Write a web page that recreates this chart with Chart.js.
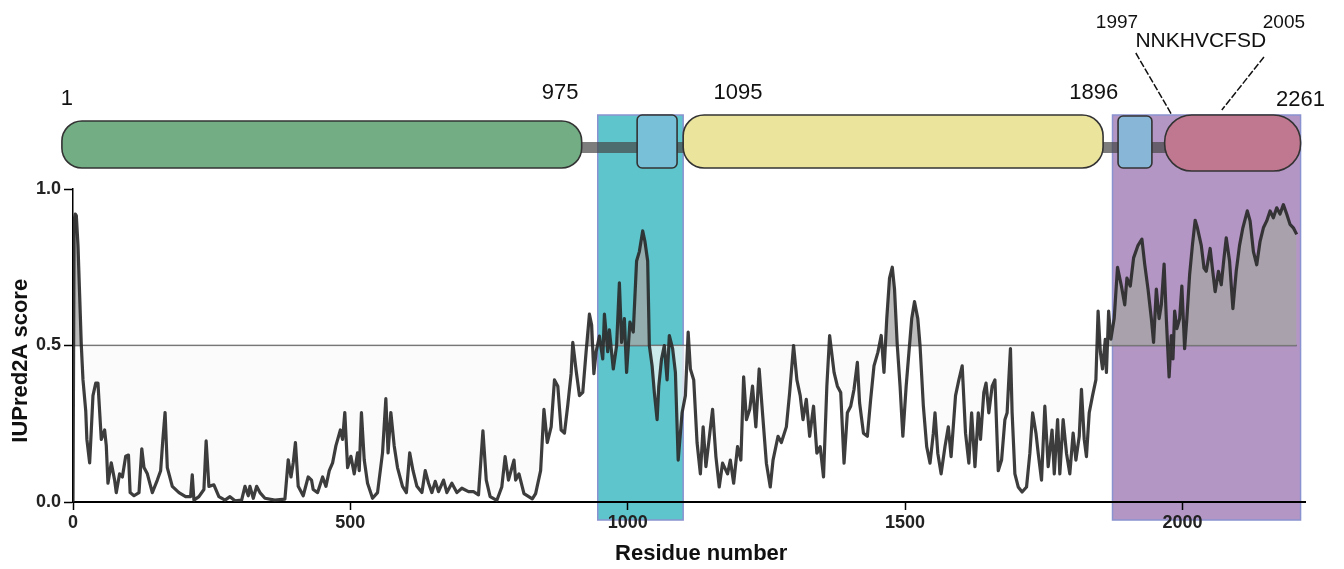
<!DOCTYPE html>
<html><head><meta charset="utf-8">
<script src="https://cdn.jsdelivr.net/npm/chart.js@4.4.0/dist/chart.umd.min.js"></script>
<style>html,body{margin:0;padding:0;background:#fff;}canvas{display:block;}</style>
</head><body>
<canvas id="c" width="1344" height="569"></canvas>
<script>
// ---------- data ----------
const residues = [0,2,4,6,9,12,15,18,23,25,30,33,36,41,45,48,51,57,60,63,69,75,78,84,89,95,100,103,110,119,124,128,134,143,152,158,162,166,170,179,191,203,212,215,218,227,236,240,245,254,263,274,283,292,304,310,316,319,325,331,337,346,364,382,388,393,397,401,406,415,424,430,433,441,450,456,462,468,474,482,486,490,495,501,507,513,516,520,525,531,540,549,558,564,568,573,579,585,594,601,607,613,620,629,635,641,647,653,659,668,674,683,692,701,713,722,731,739,745,752,
764,773,779,785,795,798,804,813,828,834,843,849,855,862,868,874,880,886,892,898,901,907,913,919,925,931,935,939,943,949,955,958,964,967,974,980,985,989,994,998,1004,1010,1016,1021,1027,1031,1036,1039,1044,1048,1053,1056,1061,1066,1071,1075,1081,1086,1091,1098,1104,1109,1113,1119,1125,1131,1136,1141,1148,1153,1159,1165,1171,1180,1185,1191,1198,1204,1209,1214,1220,1225,1231,1237,1243,1250,1257,1262,1271,1277,1286,1292,1299,1305,1311,1316,1322,1328,1335,1341,1347,1353,1359,1364,1372,1378,1384,1390,1396,1402,1408,1414,1418,1425,1432,1438,1444,1451,1457,1462,1467,1472,1477,1481,1486,1491,1496,1502,1508,1512,1517,1523,
1527,1533,1539,1545,1551,1554,1559,1565,1572,1578,1583,1591,1597,1603,1609,1615,1620,1626,1632,1636,1642,1646,1651,1657,1662,1668,1674,1680,1684,1687,1690,1693,1698,1704,1711,1719,1725,1730,1736,1740,1746,1752,1758,1765,1769,1775,1779,1785,1791,1797,1803,1808,1814,1818,1823,1827,1832,1838,1844,1848,1852,1856,1861,1863,1867,1871,1877,1883,1890,1896,1900,1906,1912,1920,1927,1932,1938,1944,1948,1953,1958,1962,1967,1971,1976,1980,1983,1986,1990,1995,1999,2004,2008,2013,2018,2023,2027,2034,2039,2043,2050,2054,2059,2065,2070,2075,2079,2085,2091,2097,2103,2109,2117,2122,2128,2134,2140,2146,2152,2158,2164,2170,2176,2182,2188,2194,2200,2206];
const scores = [0,0.90,0.92,0.915,0.82,0.66,0.50,0.39,0.29,0.20,0.125,0.23,0.34,0.38,0.38,0.29,0.20,0.23,0.18,0.06,0.125,0.07,0.03,0.09,0.08,0.146,0.15,0.03,0.02,0.03,0.17,0.11,0.09,0.03,0.07,0.10,0.20,0.286,0.11,0.05,0.03,0.017,0.017,0.087,0.006,0.017,0.04,0.195,0.05,0.055,0.017,0.006,0.017,0.004,0.006,0.05,0.02,0.05,0.012,0.05,0.03,0.012,0.006,0.009,0.135,0.08,0.125,0.19,0.05,0.02,0.08,0.07,0.04,0.03,0.08,0.05,0.10,0.125,0.18,0.23,0.20,0.286,0.11,0.146,0.09,0.157,0.10,0.286,0.135,0.06,0.012,0.03,0.157,0.33,0.157,0.286,0.18,0.11,0.05,0.03,0.157,0.10,0.05,0.03,0.10,0.06,0.03,0.066,0.033,0.07,0.03,0.06,0.03,0.044,0.033,0.033,0.023,0.227,0.07,0.017,
0.005,0.048,0.145,0.07,0.134,0.07,0.09,0.027,0.01,0.027,0.10,0.296,0.19,0.24,0.39,0.37,0.23,0.22,0.31,0.41,0.51,0.42,0.34,0.35,0.48,0.60,0.565,0.41,0.48,0.53,0.457,0.60,0.48,0.55,0.425,0.50,0.70,0.51,0.586,0.414,0.575,0.543,0.77,0.80,0.866,0.833,0.77,0.50,0.435,0.35,0.263,0.37,0.457,0.50,0.39,0.532,0.49,0.414,0.134,0.285,0.34,0.543,0.425,0.39,0.19,0.09,0.24,0.113,0.22,0.296,0.145,0.048,0.124,0.09,0.134,0.06,0.177,0.134,0.40,0.263,0.296,0.37,0.24,0.425,0.285,0.124,0.048,0.134,0.21,0.19,0.24,0.35,0.50,0.39,0.34,0.263,0.328,0.21,0.306,0.156,0.177,0.08,0.37,0.532,0.414,0.37,0.35,0.124,0.285,0.306,0.36,0.446,0.317,0.22,0.21,0.328,0.435,0.478,0.532,0.414,0.586,0.715,0.75,0.68,0.50,0.37,0.21,0.37,0.50,0.586,0.64,0.586,
0.50,0.306,0.177,0.124,0.22,0.285,0.156,0.09,0.177,0.24,0.145,0.34,0.39,0.435,0.22,0.124,0.285,0.113,0.285,0.20,0.35,0.38,0.285,0.37,0.39,0.10,0.134,0.263,0.285,0.39,0.49,0.285,0.09,0.048,0.032,0.048,0.156,0.285,0.22,0.156,0.07,0.306,0.113,0.23,0.09,0.263,0.09,0.263,0.156,0.09,0.22,0.134,0.21,0.36,0.20,0.145,0.285,0.34,0.39,0.61,0.48,0.425,0.52,0.414,0.61,0.52,0.586,0.75,0.69,0.63,0.715,0.69,0.78,0.82,0.84,0.76,0.68,0.586,0.51,0.68,0.586,0.63,0.76,0.586,0.40,0.532,0.457,0.61,0.554,0.586,0.69,0.49,0.586,0.726,0.82,0.90,0.876,0.82,0.747,0.737,0.81,0.747,0.672,0.737,0.694,0.78,0.844,0.77,0.618,0.737,0.82,0.876,0.93,0.898,0.80,0.758,0.833,0.876,0.898,0.93,0.908,0.94,0.92,0.95,0.92,0.887,0.876,0.855];
const threshold = 0.5;
const xTickValues = [0, 500, 1000, 1500, 2000];
const yTickValues = [0, 0.5, 1.0];

// protein schematic (residue positions on the plot axis)
const domainStart = [-20, 1100, 1968];
const domainEnd   = [917, 1857, 2213];
const domainColors = ['#72ad84', '#ebe49c', '#c07890'];
const motifStart = [1017, 1884];
const motifEnd   = [1089, 1945];
const motifColors = ['#78c0d8', '#88b6d6'];
const regionStart = [946, 1874];
const regionEnd   = [1100, 2213];
const regionColors = ['#5fc5cc', '#b396c4'];
const boundaryLabels = ['1', '975', '1095', '1896', '2261'];
const boundaryLabelPos = [-11, 878, 1199, 1840, 2213];
const siteLabels = ['1997', '2005'];
const siteLabelPos = [1882, 2183];
const motifSeq = 'NNKHVCFSD';
const motifSeqPos = 2033;
const pointerTop = [1916, 2147];
const pointerBottom = [1981, 2071];

// ---------- drawing ----------
const FONT = "'Liberation Sans', Arial, sans-serif";

function pill(ctx, x0, y0, x1, y1, r) {
  ctx.beginPath();
  ctx.roundRect(x0, y0, x1 - x0, y1 - y0, r);
  ctx.fill();
  ctx.stroke();
}

const schematic = {
  id: 'schematic',
  beforeDraw(chart) {
    const {ctx, scales: {x}} = chart;
    ctx.save();
    regionStart.forEach((s, i) => {
      const x0 = x.getPixelForValue(s), x1 = x.getPixelForValue(regionEnd[i]);
      ctx.fillStyle = regionColors[i];
      ctx.fillRect(x0, 115, x1 - x0, 405);
      ctx.strokeStyle = 'rgb(138,146,208)';
      ctx.lineWidth = 1.5;
      ctx.strokeRect(x0, 115, x1 - x0, 405);
    });
    ctx.restore();
  },
  afterDraw(chart) {
    const {ctx, scales: {x}} = chart;
    const px = v => x.getPixelForValue(v);
    ctx.save();
    // linker
    ctx.fillStyle = 'rgba(70,70,70,0.7)';
    const lx0 = px(domainEnd[0]) - 10, lx1 = px(domainStart[2]) + 10;
    ctx.fillRect(lx0, 142, lx1 - lx0, 11);
    // domains
    ctx.strokeStyle = '#333';
    ctx.lineWidth = 1.6;
    const tops = [121, 115, 115], bots = [168, 168, 171], rad = [20, 21, 27];
    domainStart.forEach((s, i) => {
      ctx.fillStyle = domainColors[i];
      pill(ctx, px(s), tops[i], px(domainEnd[i]), bots[i], rad[i]);
    });
    const mt = [115, 116];
    motifStart.forEach((s, i) => {
      ctx.fillStyle = motifColors[i];
      pill(ctx, px(s), mt[i], px(motifEnd[i]), 168, 5);
    });
    // labels
    ctx.fillStyle = '#111';
    ctx.textAlign = 'center';
    ctx.textBaseline = 'alphabetic';
    ctx.font = '22px ' + FONT;
    const ly = [105, 99, 99, 99, 106];
    boundaryLabels.forEach((t, i) => ctx.fillText(t, px(boundaryLabelPos[i]), ly[i]));
    ctx.font = '19px ' + FONT;
    siteLabels.forEach((t, i) => ctx.fillText(t, px(siteLabelPos[i]), 28));
    ctx.font = '21px ' + FONT;
    ctx.fillText(motifSeq, px(motifSeqPos), 47);
    // pointers
    ctx.strokeStyle = '#111';
    ctx.lineWidth = 1.5;
    ctx.setLineDash([7, 2]);
    const pt = [53, 57], pb = [115, 110];
    pointerTop.forEach((t, i) => {
      ctx.beginPath();
      ctx.moveTo(px(t), pt[i]);
      ctx.lineTo(px(pointerBottom[i]), pb[i]);
      ctx.stroke();
    });
    ctx.restore();
  }
};

const pts = residues.map((r, i) => ({x: r, y: scores[i]}));
const tickFont = {family: FONT, size: 18, weight: 'bold'};

new Chart(document.getElementById('c'), {
  type: 'line',
  data: {
    datasets: [
      {
        label: 'IUPred2A', data: pts, order: 0,
        borderColor: 'rgba(40,40,40,0.9)', borderWidth: 3.2,
        pointRadius: 0, tension: 0, borderJoinStyle: 'round',
        fill: {target: {value: threshold}, above: 'rgba(165,165,165,0.75)', below: 'rgba(250,250,250,0.7)'}
      },
      {
        label: 'threshold', order: 1,
        data: [{x: residues[0], y: threshold}, {x: residues[residues.length - 1], y: threshold}],
        borderColor: '#4a4a4a', borderWidth: 1.5, pointRadius: 0, fill: false
      }
    ]
  },
  options: {
    responsive: false, animation: false,
    layout: {padding: {top: 189, right: 39, left: 0, bottom: 0}},
    plugins: {legend: {display: false}, tooltip: {enabled: false}},
    scales: {
      x: {
        type: 'linear', min: 0, max: 2221,
        afterBuildTicks: s => { s.ticks = xTickValues.map(v => ({value: v})); },
        afterFit: s => { s.height = 67; },
        ticks: {font: tickFont, color: '#222', padding: 2, maxRotation: 0, autoSkip: false,
                callback: v => String(v)},
        grid: {drawOnChartArea: false, drawTicks: true, tickLength: 8, tickColor: '#000', tickWidth: 1.5},
        border: {display: true, color: '#000', width: 2},
        title: {display: true, text: '    Residue number', color: '#111',
                font: {family: FONT, size: 22, weight: 'bold'}, padding: {top: 0, bottom: 2}}
      },
      y: {
        min: 0, max: 1,
        afterBuildTicks: s => { s.ticks = yTickValues.map(v => ({value: v})); },
        afterFit: s => { s.width = 73; },
        ticks: {font: tickFont, color: '#222', padding: 3, callback: v => Number(v).toFixed(1)},
        grid: {drawOnChartArea: false, drawTicks: true, tickLength: 9, tickColor: '#000', tickWidth: 1.5},
        border: {display: true, color: '#000', width: 1.5},
        title: {display: true, text: 'IUPred2A score     ', color: '#111',
                font: {family: FONT, size: 22, weight: 'bold'}, padding: {top: 8, bottom: 0}}
      }
    }
  },
  plugins: [schematic]
});
</script>
</body></html>
